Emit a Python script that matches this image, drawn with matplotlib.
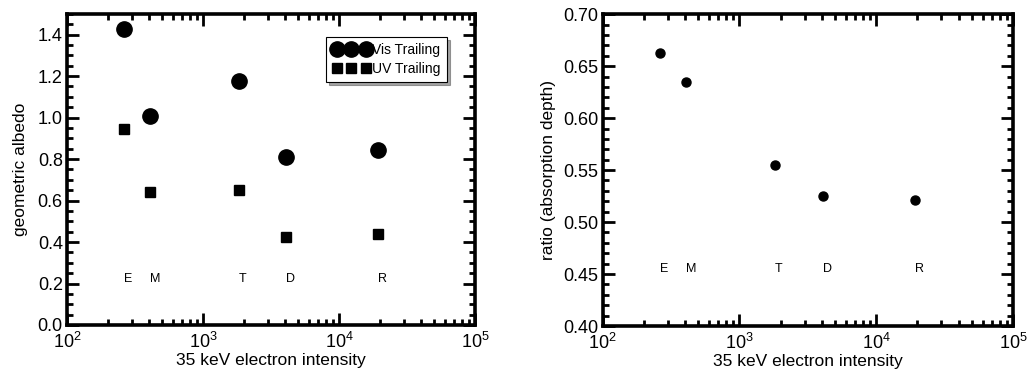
import numpy as np
import matplotlib
matplotlib.use("Agg")
import matplotlib.pyplot as plt
from matplotlib.ticker import MultipleLocator, LogLocator, NullFormatter

plt.rcParams['font.family'] = ['Liberation Sans', 'DejaVu Sans']
plt.rcParams['mathtext.fontset'] = 'custom'
plt.rcParams['mathtext.rm'] = 'Liberation Sans'
plt.rcParams['mathtext.default'] = 'regular'

# 35 keV electron intensity for each satellite (E, M, T, D, R)
moons = ['E', 'M', 'T', 'D', 'R']
intensity = [263, 407, 1830, 4060, 19300]
label_x = [282, 443, 1945, 4400, 20800]

# geometric albedo, visible and UV trailing hemispheres
vis_trailing = [1.428, 1.006, 1.175, 0.808, 0.842]
uv_trailing = [0.945, 0.639, 0.652, 0.423, 0.438]

# absorption depth ratio
ratio = [0.663, 0.635, 0.555, 0.525, 0.521]


def style_axes(ax, major, minor):
    ax.set_xscale('log')
    ax.set_xlim(1e2, 1e5)
    ax.xaxis.set_major_locator(LogLocator(base=10, numticks=10))
    ax.xaxis.set_minor_locator(LogLocator(base=10, subs=np.arange(2, 10), numticks=10))
    ax.xaxis.set_minor_formatter(NullFormatter())
    ax.yaxis.set_major_locator(MultipleLocator(major))
    ax.yaxis.set_minor_locator(MultipleLocator(minor))
    for side in ax.spines.values():
        side.set_linewidth(2.6)
    ax.tick_params(which='both', direction='in', top=True, right=True,
                   width=2.0, labelsize=13)
    ax.tick_params(axis='x', pad=5)
    ax.tick_params(axis='y', pad=3)
    ax.tick_params(which='major', length=8.5)
    ax.tick_params(which='minor', length=4.5)
    ax.set_xlabel('35 keV electron intensity', fontsize=12.5, labelpad=1)


fig = plt.figure(figsize=(10.29, 3.73), dpi=100)
ax1 = fig.add_axes([0.0651, 0.1287, 0.3965, 0.834])
ax2 = fig.add_axes([0.5857, 0.126, 0.3987, 0.836])

# left panel: albedo
ax1.plot(intensity, vis_trailing, 'o', color='black', ms=11, label='Vis Trailing')
ax1.plot(intensity, uv_trailing, 's', color='black', ms=7, label='UV Trailing')
for name, x in zip(moons, label_x):
    ax1.text(x, 0.22, name, fontsize=9, ha='center', va='center')
ax1.set_ylim(0, 1.5)
style_axes(ax1, 0.2, 0.05)
ax1.yaxis.set_major_formatter(plt.FormatStrFormatter('%.1f'))
ax1.set_ylabel('geometric albedo', fontsize=12.5, labelpad=7)
leg = ax1.legend(loc='upper right', bbox_to_anchor=(0.931, 0.926),
                 numpoints=3, fontsize=10, frameon=True, fancybox=False,
                 shadow=True, framealpha=1, edgecolor='black',
                 handlelength=2.7, handletextpad=0.15, borderpad=0.45,
                 labelspacing=0.35, borderaxespad=0)
leg.get_frame().set_linewidth(0.8)

# right panel: absorption depth ratio
ax2.plot(intensity, ratio, 'o', color='black', ms=6.5)
for name, x in zip(moons, label_x):
    ax2.text(x, 0.4545, name, fontsize=9, ha='center', va='center')
ax2.set_ylim(0.40, 0.70)
style_axes(ax2, 0.05, 0.01)
ax2.yaxis.set_major_formatter(plt.FormatStrFormatter('%.2f'))
ax2.set_ylabel('ratio (absorption depth)', fontsize=12.5, labelpad=5)

fig.savefig('out.png', dpi=100)
